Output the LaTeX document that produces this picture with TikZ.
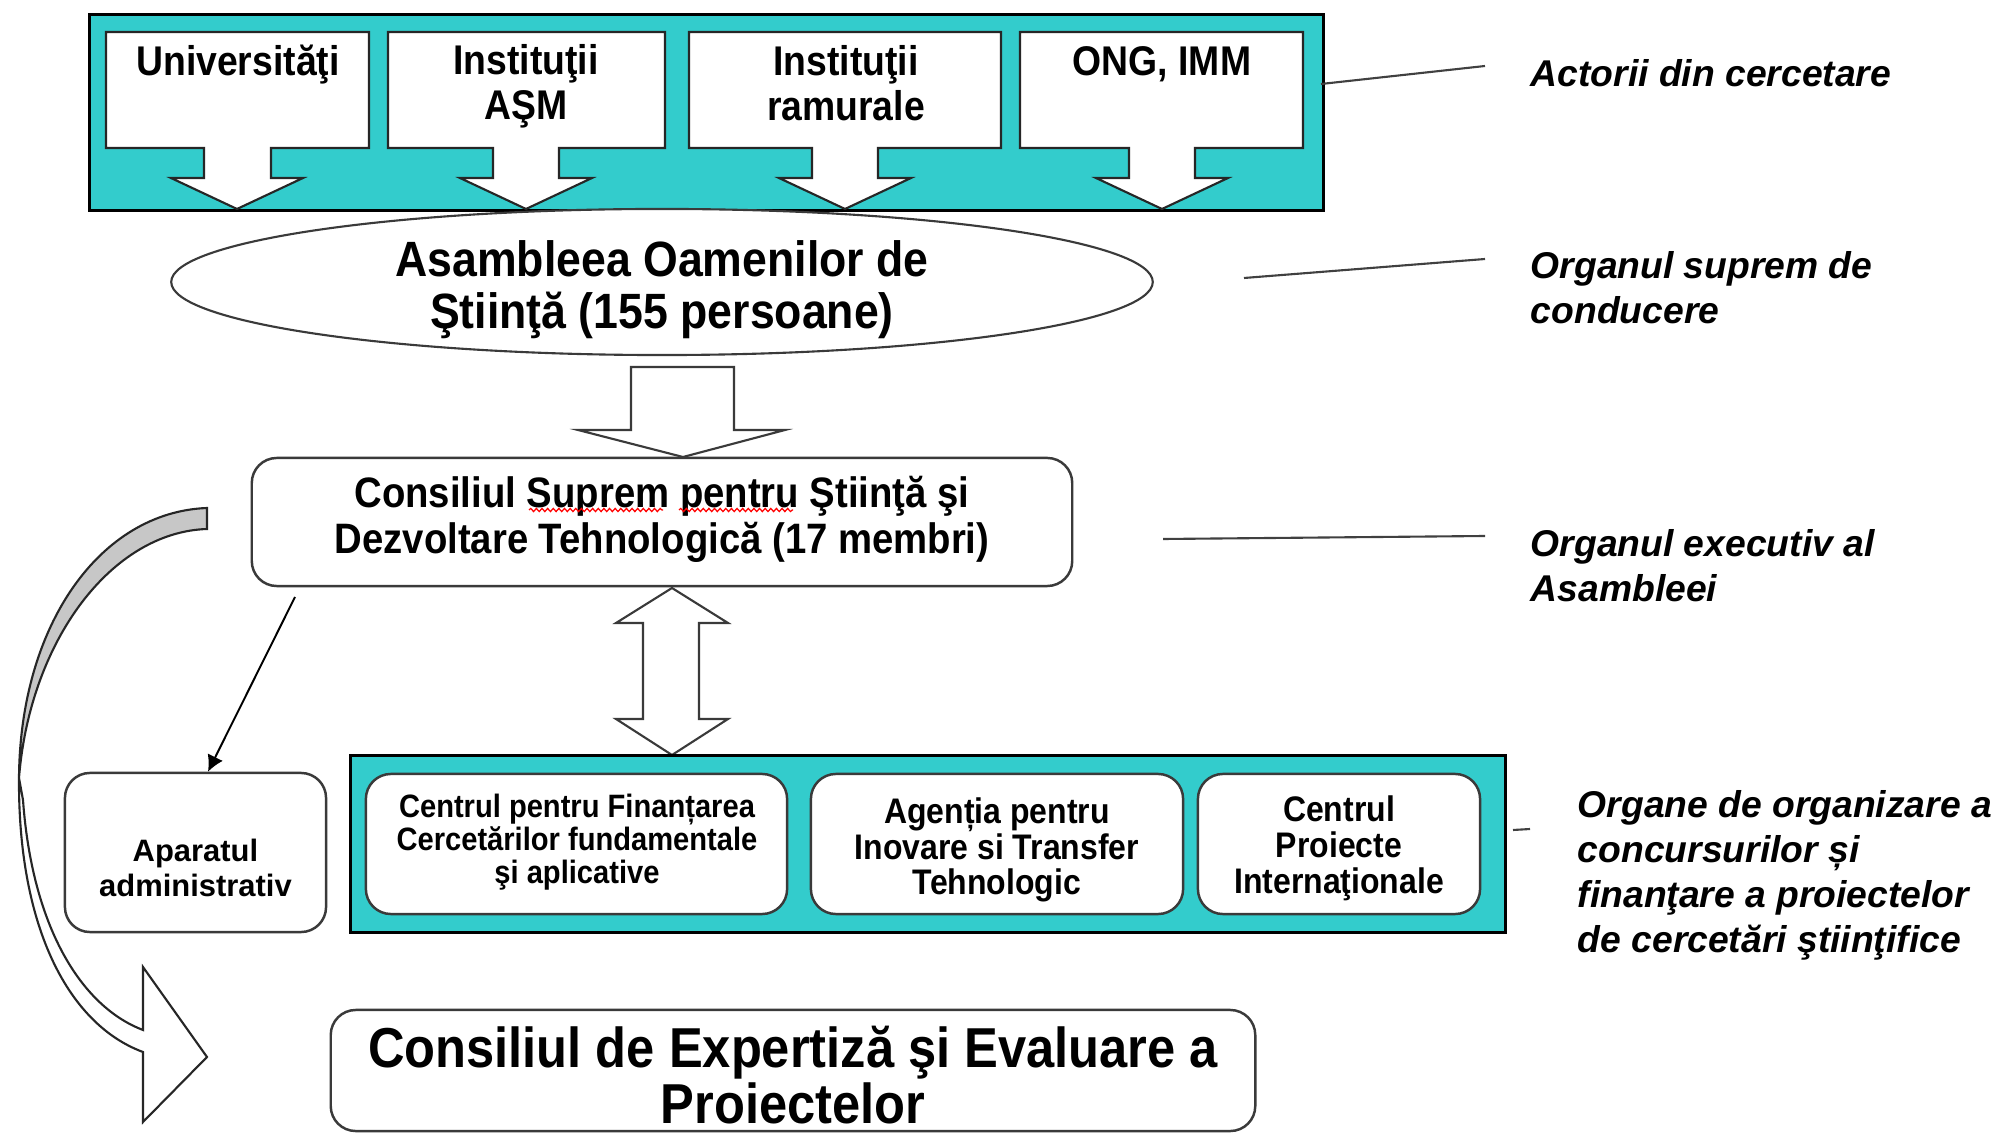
\documentclass[tikz,border=0pt]{standalone}
\usepackage{fontspec}
\setmainfont{Liberation Sans}
\newfontfamily\cond[FakeStretch=0.9]{Liberation Sans}
\usetikzlibrary{shapes.geometric,arrows.meta,decorations.pathmorphing}
\definecolor{teala}{HTML}{33CCCC}
\definecolor{edgec}{HTML}{3A3A3A}
\begin{document}
\begin{tikzpicture}[x=0.01cm,y=-0.01cm,
  tealbox/.style={fill=teala, draw=black, line width=0.8pt, inner sep=0, anchor=north west},
  callout/.style={fill=white, draw=black!85, line width=0.6pt, line join=miter},
  blockarrow/.style={fill=white, draw=edgec, line width=0.6pt},
  rbox/.style={draw=edgec, line width=0.7pt, rounded corners=0.25cm, fill=white, inner sep=0},
  condtxt/.style={font=\cond\bfseries\fontsize{11.8}{12.8}\selectfont, align=center, inner sep=0},
  lbl/.style={font=\bfseries\itshape\fontsize{10.6}{12.8}\selectfont, align=left, anchor=west, inner sep=0},
  leader/.style={draw=black!75, line width=0.6pt},
  squiggle/.style={draw=red, line width=0.35pt, decorate, decoration={snake, amplitude=0.45pt, segment length=1.6pt}}
]
\useasboundingbox (0,0) rectangle (1997,1134);
\fill[white] (0,0) rectangle (1997,1134);

% ---- top teal band with research actors
\node[tealbox, minimum width=12.33cm, minimum height=1.96cm] (actors) at (88,13) {};
\draw[callout] (106,32) -- (369,32) -- (369,148) -- (271,148) -- (271,178) -- (303,178) -- (237,209) -- (171,178) -- (204,178) -- (204,148) -- (106,148) -- cycle;
\draw[callout] (388,32) -- (665,32) -- (665,148) -- (559,148) -- (559,178) -- (592,178) -- (526,209) -- (460,178) -- (493,178) -- (493,148) -- (388,148) -- cycle;
\draw[callout] (689,32) -- (1001,32) -- (1001,148) -- (878,148) -- (878,178) -- (911,178) -- (845,209) -- (779,178) -- (812,178) -- (812,148) -- (689,148) -- cycle;
\draw[callout] (1020,32) -- (1303,32) -- (1303,148) -- (1195,148) -- (1195,178) -- (1228,178) -- (1162,209) -- (1096,178) -- (1129,178) -- (1129,148) -- (1020,148) -- cycle;
\node[condtxt] (univ) at (238,65) {Universităţi};
\node[condtxt] (iasm) at (526,86) {Instituţii\\AŞM};
\node[condtxt] (iram) at (846,83) {Instituţii\\ramurale};
\node[condtxt] (ong) at (1162,64) {ONG, IMM};

% ---- assembly ellipse
\node[draw=edgec, line width=0.6pt, fill=white, ellipse, minimum width=9.81cm, minimum height=1.46cm, inner sep=0] (assembly) at (662,282) {};
\node[font=\cond\bfseries\fontsize{14.1}{14.8}\selectfont, align=center, inner sep=0] (assemblytxt) at (662,290) {Asambleea Oamenilor de\\Ştiinţă (155 persoane)};

% ---- block arrow down
\draw[blockarrow] (631,367) -- (734,367) -- (734,430) -- (785,430) -- (683,457) -- (578,430) -- (631,430) -- cycle;

% ---- supreme council
\node[rbox, minimum width=8.2cm, minimum height=1.28cm] (council) at (662,522) {};
\node[font=\cond\bfseries\fontsize{12.1}{13.1}\selectfont, align=center, inner sep=0] (counciltxt) at (662,519) {Consiliul Suprem pentru Ştiinţă şi\\Dezvoltare Tehnologică (17 membri)};
\draw[squiggle] (529,510) -- (663,510);
\draw[squiggle] (679,510) -- (793,510);

% ---- double arrow
\draw[blockarrow] (672,588) -- (728,623) -- (699,623) -- (699,719) -- (728,719) -- (672,755) -- (616,719) -- (643,719) -- (643,623) -- (616,623) -- cycle;

% ---- bottom teal band
\node[tealbox, minimum width=11.54cm, minimum height=1.77cm] (organs) at (349,754) {};
\node[rbox, minimum width=4.21cm, minimum height=1.40cm] (cfin) at (576.5,844) {};
\node[rbox, minimum width=3.72cm, minimum height=1.40cm] (agency) at (997,844) {};
\node[rbox, minimum width=2.82cm, minimum height=1.40cm] (cpi) at (1339,844) {};
\node[font=\cond\bfseries\fontsize{9.2}{9.3}\selectfont, align=center, inner sep=0] (cfintxt) at (577,842) {Centrul pentru Finanțarea\\Cercetărilor fundamentale\\şi aplicative};
\node[font=\cond\bfseries\fontsize{10.1}{10.2}\selectfont, align=center, inner sep=0] (agencytxt) at (997,850) {Agenția pentru\\Inovare si Transfer\\Tehnologic};
\node[font=\cond\bfseries\fontsize{10.1}{10.2}\selectfont, align=center, inner sep=0] (cpitxt) at (1339,848) {Centrul\\Proiecte\\Internaţionale};

% ---- administrative apparatus
\node[rbox, minimum width=2.61cm, minimum height=1.59cm] (aparat) at (195.5,852.5) {};
\node[font=\bfseries\fontsize{8.8}{10.2}\selectfont, align=center, inner sep=0] (aparattxt) at (195.5,868) {Aparatul\\administrativ};
\coordinate (thinstart) at (295,597);
\coordinate (thinx) at (208,0);
\draw[line width=0.55pt, -{Latex[length=4.6pt,width=4.8pt]}] (thinstart) -- (aparat.north -| thinx);

% ---- expertise council
\node[rbox, minimum width=9.24cm, minimum height=1.21cm] (expert) at (793,1070.5) {};
\node[font=\cond\bfseries\fontsize{16}{16}\selectfont, align=center, inner sep=0] (experttxt) at (793,1075) {Consiliul de Expertiză şi Evaluare a\\Proiectelor};

% ---- curved arrow on the left
\draw[fill=black!22, draw=black!85, line width=0.6pt] (207,508) .. controls (100,512) and (20,625) .. (19,778) .. controls (30,640) and (112,532) .. (207,529) -- cycle;
\draw[fill=white, draw=black!85, line width=0.6pt, line join=miter] (19,778) .. controls (18,930) and (70,1025) .. (143,1052) -- (143,1122) -- (207,1057) -- (143,967) -- (143,1030) .. controls (80,1006) and (32,925) .. (23,800) -- cycle;

% ---- right-hand labels and leaders
\node[lbl] (l1) at (1530,73) {Actorii din cercetare};
\node[lbl] (l2) at (1530,288) {Organul suprem de\\conducere};
\node[lbl] (l3) at (1530,566) {Organul executiv al\\Asambleei};
\node[lbl] (l4) at (1577,875) {Organe de organizare a\\concursurilor și\\finanţare a proiectelor\\de cercetări ştiinţifice};
\coordinate (a1) at (1321,84); \coordinate (b1) at (1485,66);
\coordinate (a2) at (1244,278); \coordinate (b2) at (1485,259);
\coordinate (a3) at (1163,539); \coordinate (b3) at (1485,536);
\coordinate (a4) at (1513,830); \coordinate (b4) at (1530,829);
\draw[leader] (a1) -- (b1);
\draw[leader] (a2) -- (b2);
\draw[leader] (a3) -- (b3);
\draw[leader] (a4) -- (b4);
\end{tikzpicture}
\end{document}
